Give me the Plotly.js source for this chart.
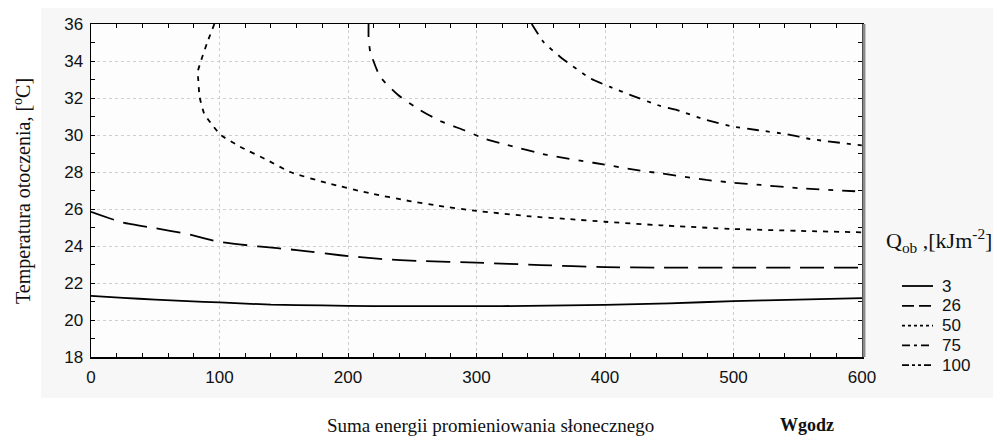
<!DOCTYPE html>
<html>
<head>
<meta charset="utf-8">
<script src="https://cdn.plot.ly/plotly-3.0.1.min.js"></script>
<style>
  html, body { margin: 0; padding: 0; background: #ffffff; }
  #chart { width: 993px; height: 436px; }
</style>
</head>
<body>
<div id="chart"></div>
<script>
// ---- data ----
const seriesNames = ["3", "26", "50", "75", "100"];

const x3 = [0, 25, 50, 75, 100, 140, 180, 220, 300, 340, 400, 450, 500, 550, 600];
const y3 = [21.3, 21.2, 21.1, 21.02, 20.95, 20.83, 20.79, 20.75, 20.75, 20.76, 20.82, 20.9, 21.02, 21.1, 21.18];

const x26 = [0, 25, 50, 75, 100, 130, 160, 194, 225, 256, 300, 350, 400, 443, 500, 550, 600];
const y26 = [25.85, 25.26, 24.96, 24.65, 24.22, 23.98, 23.78, 23.5, 23.3, 23.19, 23.1, 22.97, 22.86, 22.83, 22.83, 22.83, 22.83];

const x50 = [96, 90.2, 85.8, 83, 83.3, 84.5, 88, 94.4, 101, 116, 137, 155, 184, 217, 248, 270, 300, 342, 373, 400, 443, 500, 550, 600];
const y50 = [36, 34.95, 34.05, 33.4, 33.15, 32.07, 31.17, 30.54, 30.0, 29.37, 28.65, 28.0, 27.4, 26.85, 26.43, 26.18, 25.9, 25.6, 25.45, 25.31, 25.12, 24.92, 24.82, 24.74];

const x75 = [216, 216, 217.3, 225, 239, 256, 273, 290, 305.5, 324, 355, 391, 425, 443, 479, 500, 521, 552, 600];
const y75 = [36, 35.3, 34.5, 33.15, 32.16, 31.35, 30.72, 30.27, 29.82, 29.46, 28.92, 28.5, 28.1, 27.93, 27.57, 27.42, 27.3, 27.12, 26.94];

const x100 = [343, 352, 365, 388.6, 404, 420, 443, 456, 477, 500, 518, 542, 560, 600];
const y100 = [36, 35.04, 34.23, 33.06, 32.6, 32.16, 31.57, 31.35, 30.85, 30.45, 30.27, 30.04, 29.78, 29.44];

const xTicks = [0, 100, 200, 300, 400, 500, 600];
const yTicks = [18, 20, 22, 24, 26, 28, 30, 32, 34, 36];

const xTitle = "Suma energii promieniowania słonecznego";
const xUnit = "Wgodz";
const yTitle = "Temperatura otoczenia, [<sup>o</sup>C]";
const legendTitle = "Q<sub>ob</sub> ,[kJm<sup>-2</sup>]";

// ---- styles ----
const dashes = ["solid", "24px,10px", "5px,6px", "13px,9px,5px,9px", "12px,7px,4px,7px,4px,7px"];
const legendDashes = ["solid", "12px,5px", "3px,3px", "8px,4px,3px,4px", "7px,3px,3px,3px,3px,3px"];
const xs = [x3, x26, x50, x75, x100];
const ys = [y3, y26, y50, y75, y100];

const traces = seriesNames.map((n, i) => ({
  type: "scatter",
  mode: "lines",
  name: n,
  x: xs[i],
  y: ys[i],
  showlegend: false,
  line: { color: "#000000", width: 1.8, dash: dashes[i], shape: "spline", smoothing: 0.5 },
  cliponaxis: true
}));

const W = 993, H = 436;
const L = 91, R = 131, T = 24, B = 79;
const pw = W - L - R, ph = H - T - B;
const px = v => (v - L) / pw;
const py = v => 1 - (v - T) / ph;

const serif = "Liberation Serif, Times New Roman, serif";
const sans = "Liberation Sans, Arial, sans-serif";

// legend built from the series names (paper-positioned samples and labels)
const legendY0 = 286, legendStep = 19.8;
const legendShapes = seriesNames.map((n, i) => ({
  type: "line", xref: "paper", yref: "paper", layer: "above",
  x0: px(902), x1: px(933), y0: py(legendY0 + i * legendStep), y1: py(legendY0 + i * legendStep),
  line: { color: "#000000", width: 1.8, dash: legendDashes[i] }
}));
const legendLabels = seriesNames.map((n, i) => ({
  xref: "paper", yref: "paper", x: px(940), y: py(legendY0 + i * legendStep),
  xanchor: "left", yanchor: "middle", text: n, showarrow: false,
  font: { family: sans, size: 17, color: "#111111" }
}));

const layout = {
  width: W, height: H,
  margin: { l: L, r: R, t: T, b: B, pad: 0 },
  paper_bgcolor: "#ffffff",
  plot_bgcolor: "#fdfdfd",
  showlegend: false,
  font: { family: sans, size: 17, color: "#111111" },
  xaxis: {
    range: [0, 600],
    tickvals: xTicks,
    ticktext: xTicks.map(String),
    ticks: "inside", ticklen: 4, tickcolor: "#000000", tickwidth: 1,
    minor: { dtick: 20, ticks: "inside", ticklen: 4, tickcolor: "#000000", showgrid: false },
    showline: true, linecolor: "#000000", linewidth: 1.5, mirror: "ticks",
    showgrid: true, gridcolor: "#cfcfcf", griddash: "dot", gridwidth: 1,
    zeroline: false,
    ticklabelstandoff: 4,
    tickfont: { family: sans, size: 17, color: "#111111" },
    fixedrange: true
  },
  yaxis: {
    range: [18, 36],
    tickvals: yTicks,
    ticktext: yTicks.map(String),
    ticks: "inside", ticklen: 4, tickcolor: "#000000", tickwidth: 1,
    minor: { dtick: 1, ticks: "inside", ticklen: 4, tickcolor: "#000000", showgrid: false },
    showline: true, linecolor: "#000000", linewidth: 1.5, mirror: "ticks",
    showgrid: true, gridcolor: "#cfcfcf", griddash: "dot", gridwidth: 1,
    zeroline: false,
    ticklabelstandoff: 3,
    tickfont: { family: sans, size: 17, color: "#111111" },
    fixedrange: true
  },
  shapes: [
    { type: "rect", xref: "paper", yref: "paper", layer: "below",
      x0: px(41), x1: px(993), y0: py(398), y1: py(8),
      fillcolor: "#f7f7f7", line: { width: 0 } },
    { type: "rect", xref: "paper", yref: "paper", layer: "below",
      x0: 0, x1: 1, y0: 0, y1: 1,
      fillcolor: "#fdfdfd", line: { width: 0 } },
    { type: "line", xref: "paper", yref: "paper", layer: "above",
      x0: 1.0025, x1: 1.0025, y0: 0, y1: 1,
      line: { color: "#8a8a8a", width: 3 } }
  ].concat(legendShapes),
  annotations: [
    { xref: "paper", yref: "paper", x: px(22), y: py(191), xanchor: "center", yanchor: "middle",
      text: yTitle, textangle: -90, showarrow: false,
      font: { family: serif, size: 20, color: "#111111" } },
    { xref: "paper", yref: "paper", x: px(490), y: py(425), xanchor: "center", yanchor: "middle",
      text: xTitle, showarrow: false,
      font: { family: serif, size: 19, color: "#111111" } },
    { xref: "paper", yref: "paper", x: px(807), y: py(425), xanchor: "center", yanchor: "middle",
      text: "<b>" + xUnit + "</b>", showarrow: false,
      font: { family: serif, size: 18, color: "#111111" } },
    { xref: "paper", yref: "paper", x: px(884), y: py(240), xanchor: "left", yanchor: "middle",
      text: legendTitle, showarrow: false,
      font: { family: serif, size: 22, color: "#111111" } }
  ].concat(legendLabels)
};

Plotly.newPlot("chart", traces, layout, { displayModeBar: false, staticPlot: true });
</script>
</body>
</html>
